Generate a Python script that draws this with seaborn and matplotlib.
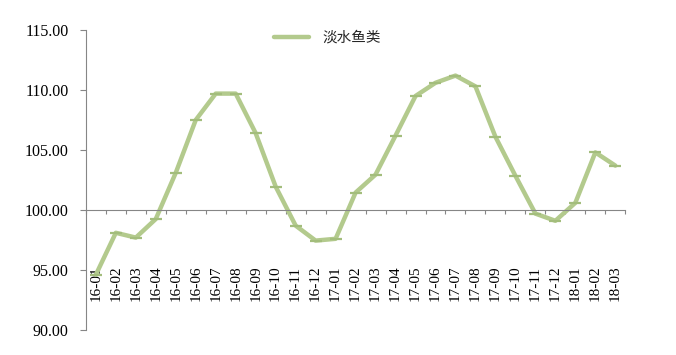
import matplotlib
matplotlib.use("Agg")
import matplotlib.pyplot as plt
from matplotlib.lines import Line2D
from matplotlib.ticker import FixedLocator
import seaborn as sns
import pandas as pd
import numpy as np

months = ["16-01", "16-02", "16-03", "16-04", "16-05", "16-06", "16-07", "16-08", "16-09",
          "16-10", "16-11", "16-12", "17-01", "17-02", "17-03", "17-04", "17-05", "17-06",
          "17-07", "17-08", "17-09", "17-10", "17-11", "17-12", "18-01", "18-02", "18-03"]
values = [94.6, 98.1, 97.7, 99.25, 103.1, 107.5, 109.7, 109.7, 106.4,
          101.95, 98.7, 97.45, 97.6, 101.45, 102.95, 106.2, 109.5, 110.6,
          111.2, 110.3, 106.1, 102.85, 99.7, 99.1, 100.6, 104.8, 103.7]
series_name = "淡水鱼类"
yticks = [90, 95, 100, 105, 110, 115]

sns.set_theme(style="white")
plt.rcParams['font.family'] = ['Liberation Serif', 'Noto Sans CJK SC', 'DejaVu Sans']

df = pd.DataFrame({"month": months, "value": values, "x": np.arange(len(months))})

fig = plt.figure(figsize=(6.76, 3.55), dpi=100)
ax = fig.add_axes([0.127, 0.0704, 0.798, 0.8451])
ax.set_axisbelow(True)

line_color = "#B3CA8D"
sns.lineplot(data=df, x="x", y="value", ax=ax, color=line_color, linewidth=3.2,
             marker="_", markersize=9, markeredgewidth=1.6, markeredgecolor="#A3BD7C")

ax.set_xlim(-0.5, len(months) - 0.5)
ax.set_ylim(90, 115)
ax.set_yticks(yticks)
ax.set_yticklabels([f"{v:.2f}" for v in yticks], fontsize=11.5)
ax.set_xticks(np.arange(len(months)))
ax.set_xticklabels(months, fontsize=11.5)
ax.xaxis.set_minor_locator(FixedLocator(np.arange(-0.5, len(months), 1.0)))
ax.tick_params(axis="x", which="major", bottom=True, length=0, pad=40, labelrotation=90)
ax.tick_params(axis="x", which="minor", bottom=True, length=3, width=0.8, color="#868686", direction="out")
ax.tick_params(axis="y", which="major", left=True, length=4.5, width=0.8, color="#868686", pad=8, direction="out")
ax.set_xlabel("")
ax.set_ylabel("")

for s in ["top", "right"]:
    ax.spines[s].set_visible(False)
ax.spines["bottom"].set_position(("data", 100))
ax.spines["bottom"].set_color("#868686")
ax.spines["bottom"].set_linewidth(0.8)
ax.spines["left"].set_color("#868686")
ax.spines["left"].set_linewidth(0.8)

handle = Line2D([0], [0], color=line_color, linewidth=3.2)
leg = fig.legend([handle], [series_name], loc="center", bbox_to_anchor=(0.484, 0.893),
                 frameon=False, handlelength=2.4, handletextpad=0.9,
                 prop={"family": ["Noto Sans CJK SC"], "size": 10.5})

for lab in ax.get_xticklabels() + ax.get_yticklabels():
    lab.set_color("black")

fig.savefig("out.png", dpi=100)
